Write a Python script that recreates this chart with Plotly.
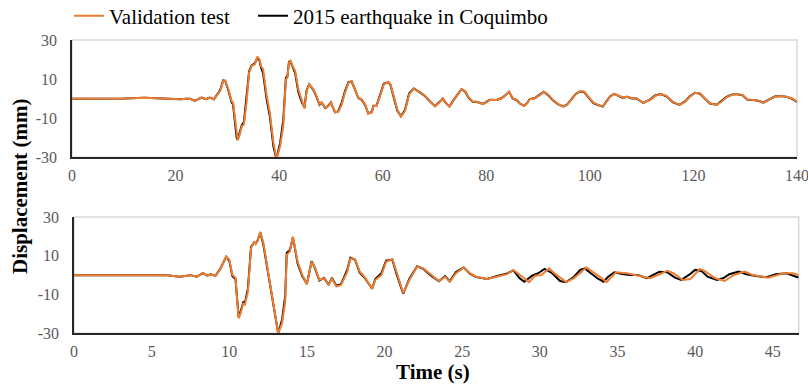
import plotly.graph_objects as go

# ---------------- data ----------------
# Top panel: full record (s) vs displacement (mm)
t_top = [0, 5, 10, 14, 18, 20, 21, 22, 22.8, 23.7, 25.0, 25.9, 26.6, 27.4, 27.9, 28.6, 29.2, 29.6,
         30.2, 30.8, 31.1, 31.8, 32.0, 32.4, 32.8, 33.2, 33.7, 34.2, 34.7, 35.3, 35.8, 36.2, 36.5,
         36.9, 37.6, 38.2, 38.9, 39.4, 39.6, 40.2, 40.8, 41.3, 41.6, 41.9, 42.2, 42.6, 43.1, 43.7,
         44.4, 44.9, 45.3, 45.8, 46.6, 47.2, 47.8, 48.2, 48.9, 49.5, 50.0, 50.3, 50.8, 51.4, 52.1,
         52.7, 53.4, 54.0, 54.6, 55.3, 55.9, 56.6, 57.2, 57.9, 58.2, 58.8, 59.5, 60.2, 61.1, 61.5,
         62.2, 62.8, 63.5, 64.3, 65.1, 66.0, 67.2, 68.2, 69.1, 70.1, 70.9, 71.6, 72.2, 72.9, 73.6,
         74.4, 75.2, 75.9, 76.5, 77.4, 78.1, 79.4, 80.7, 82.0, 83.0, 83.8, 84.4, 85.1, 85.9, 86.5,
         87.3, 87.9, 88.4, 89.4, 90.4, 91.1, 92.0, 92.9, 93.9, 94.9, 95.6, 96.5, 97.3, 98.1, 98.9,
         99.7, 100.7, 101.6, 102.5, 103.2, 103.9, 104.7, 105.5, 106.3, 107.2, 108.1, 109.0, 110.3,
         111.6, 112.6, 113.7, 114.8, 116.0, 117.3, 118.4, 119.3, 120.3, 121.3, 122.2, 123.2, 124.5,
         125.4, 126.4, 127.4, 128.3, 129.5, 130.4, 131.6, 132.5, 133.5, 134.6, 135.7, 137.0, 138.0,
         139.0, 140.0]
val_top = [0, 0, 0.1, 0.4, 0, -0.5, -0.3, 0, 0, -1.2, 0.5, -0.3, 0.5, -0.3, 1.4, 3.9, 9.0, 9.3,
           4.8, -1.2, -2.0, -19.1, -21.3, -18.3, -14.0, -13.2, -2.1, 13.3, 16.7, 17.6, 21.5, 20.1, 16.7,
           15.0, 1.4, -7.2, -22.5, -29.5, -30.0, -24.2, -14.0, 9.9, 10.8, 18.4, 19.3, 16.7, 14.1, 4.8,
           -1.2, -5.1, 3.9, 7.3, 4.8, 1.4, -2.9, -1.8, -4.6, -3.8, -2.1, -3.8, -6.8, -6.8, -2.9,
           3.0, 8.1, 9.0, 4.8, 0.5, -0.3, -2.9, -7.5, -7.2, -3.8, -3.8, 1.4, 7.3, 8.5, 7.3,
           0.5, -5.5, -9.2, -6.3, 2.2, 5.1, 3.4, 1.4, -1.2, -3.8, -2.1, 0, -2.1, -4.1, -1.2,
           1.7, 4.8, 3.9, 1.0, -1.6, -1.6, -2.8, -0.7, -0.7, 0.2, 1.9, 3.6, 0.2, -0.7, -2.4,
           -3.8, -2.4, -0.3, 0.2, 1.9, 3.6, 1.9, -0.7, -2.8, -4.1, -3.2, -0.3, 2.4, 3.6, 3.6,
           1.0, -2.1, -3.2, -4.1, -1.6, 1.0, 2.4, 1.4, 0.7, 1.0, 0.2, 0.2, -2.1,
           -0.7, 1.4, 2.4, 1.4, -1.6, -3.2, -1.6, 1.0, 3.0, 2.7, 0.2, -2.4, -3.2,
           -1.6, 0.7, 1.9, 2.4, 1.9, -0.3, -0.7, -1.0, -2.1, -0.7, 1.0, 1.4, 1.0,
           0.2, -1.6]
eq_top = [0, 0, 0.1, 0.4, 0, -0.5, -0.3, 0, 0, -1.2, 0.5, -0.3, 0.5, -0.3, 1.6, 4.3, 9.3, 9.0,
          4.2, -1.6, -3.0, -20.0, -21.0, -17.8, -13.5, -12.0, 0.5, 14.0, 17.0, 18.0, 21.0, 19.5, 16.0,
          13.0, -0.5, -9.0, -24.5, -30.0, -29.5, -22.5, -11.0, 10.5, 11.5, 18.8, 19.0, 16.0, 13.0, 3.5,
          -2.0, -4.5, 4.3, 7.3, 4.5, 1.0, -3.2, -2.0, -4.8, -3.6, -2.0, -4.0, -7.0, -6.5, -2.0,
          3.8, 8.5, 8.8, 4.4, 0.3, -0.5, -3.2, -7.6, -6.8, -3.6, -3.6, 2.0, 7.6, 8.4, 7.0,
          0.0, -6.0, -9.0, -5.8, 2.6, 5.2, 3.2, 1.2, -1.4, -3.8, -1.9, 0, -2.3, -4.0, -1.0,
          1.9, 4.8, 3.7, 0.8, -1.7, -1.6, -2.7, -0.6, -0.7, 0.3, 2.0, 3.5, 0.1, -0.8, -2.5,
          -3.7, -2.2, -0.2, 0.3, 2.0, 3.5, 1.7, -0.9, -2.9, -4.0, -3.0, -0.1, 2.5, 3.6, 3.4,
          0.8, -2.3, -3.3, -4.0, -1.4, 1.1, 2.4, 1.3, 0.5, 0.9, 0.1, 0.1, -2.2,
          -0.5, 1.6, 2.4, 1.2, -1.8, -3.2, -1.4, 1.2, 3.0, 2.5, 0.0, -2.5, -3.1,
          -1.4, 0.9, 2.0, 2.4, 1.7, -0.5, -0.7, -1.1, -2.0, -0.5, 1.1, 1.4, 0.9,
          0.0, -1.7]

# Bottom panel: time-scaled validation test
t_bot_val = [0, 3, 5, 6, 6.8, 7.5, 7.9, 8.3, 8.6, 8.8, 9.1, 9.4, 9.8, 10.0, 10.2, 10.4, 10.6, 10.7,
             10.9, 11.0, 11.2, 11.4, 11.6, 11.7, 11.8, 12.0, 12.2, 12.4, 12.6, 12.9, 13.15, 13.4, 13.6,
             13.7, 13.9, 14.1, 14.2, 14.4, 14.7, 15.0, 15.3, 15.5, 15.8, 16.1, 16.4, 16.6, 16.9, 17.2,
             17.6, 17.8, 18.1, 18.4, 18.7, 19.2, 19.4, 19.8, 20.1, 20.5, 20.8, 21.2, 21.6, 22.1, 22.5,
             23.0, 23.5, 23.9, 24.2, 24.6, 25.1, 25.5, 25.9, 26.6, 27.2, 27.9, 28.3, 28.7, 29.3, 29.7,
             30.1, 30.6, 31.0, 31.7, 32.2, 33.0, 33.4, 34.0, 34.3, 34.6, 34.9, 35.6, 36.4, 37.1, 37.6,
             38.2, 38.6, 39.2, 39.7, 40.3, 40.6, 41.3, 41.9, 42.5, 43.2, 43.7, 44.7, 45.7, 46.3, 46.67]
val_bot = [0, 0, 0.2, 0, -0.8, 0, -0.8, 1.0, -0.3, 0.5, -0.5, 2.7, 9.6, 8.0, 0.1, -1.3, -22.3, -20.5,
           -14.5, -15.4, -8.5, 13.8, 17.3, 16.0, 17.3, 22.4, 16.4, 6.9, -1.6, -17.1, -30.0, -24.8, -13.7,
           10.5, 12.1, 19.8, 15.6, 6.9, 0.1, -4.7, 6.9, 4.4, -2.5, -1.6, -5.1, -1.6, -5.9, -5.1,
           1.8, 8.7, 8.3, 1.8, -0.8, -7.1, -2.5, 0.1, 6.9, 8.3, 1.0, -9.3, -2.5, 4.4, 3.5,
           0.1, -3.0, -0.8, -3.4, 1.0, 3.9, 1.0, -0.8, -2.0, -0.8, 0.5, 2.7, 0.1, -3.6, -0.3,
           0.1, 3.5, 0.5, -3.6, -1.5, 3.9, 1.8, -1.6, -3.6, -1.3, 1.5, 1.0, -0.3, -1.6, 0.1,
           2.2, 1.0, -2.5, -2.0, 3.2, 2.2, -1.6, -3.0, 0.1, 1.8, 0.1, -1.3, 1.0, 1.0, 0.1]

t_bot_eq = [0, 3, 5, 6, 6.8, 7.5, 7.9, 8.3, 8.6, 8.8, 9.1, 9.4, 9.8, 10.0, 10.2, 10.4, 10.6, 10.7,
            10.9, 11.0, 11.2, 11.4, 11.6, 11.7, 11.8, 12.0, 12.2, 12.4, 12.6, 12.9, 13.15, 13.4, 13.6,
            13.7, 13.9, 14.1, 14.2, 14.4, 14.7, 15.0, 15.3, 15.5, 15.8, 16.1, 16.4, 16.6, 16.9, 17.2,
            17.6, 17.8, 18.1, 18.4, 18.7, 19.2, 19.4, 19.8, 20.1, 20.5, 20.8, 21.2, 21.6, 22.1, 22.5,
            23.0, 23.5, 23.9, 24.2, 24.6, 25.1, 25.5, 25.9, 26.6, 27.2, 27.9, 28.3, 28.7, 29.0, 29.5,
            29.9, 30.3, 30.8, 31.3, 31.7, 32.2, 32.6, 32.9, 33.2, 33.7, 34.1, 34.4, 34.8, 35.3, 35.8,
            36.3, 36.9, 37.3, 37.7, 38.2, 38.7, 39.1, 39.6, 40.0, 40.4, 40.8, 41.4, 41.8, 42.2, 42.8,
            43.3, 43.9, 44.6, 45.2, 45.9, 46.5, 46.67]
eq_bot = [0, 0, 0.2, 0, -0.8, 0, -0.8, 1.0, -0.3, 0.5, -0.5, 3.0, 9.4, 7.5, -0.5, -2.0, -21.5, -19.5,
          -14.0, -14.5, -7.0, 14.5, 17.0, 16.3, 17.5, 22.0, 15.5, 5.5, -3.0, -19.0, -30.0, -23.0, -11.0,
          11.5, 12.8, 19.5, 15.0, 6.0, -0.5, -4.5, 7.2, 4.0, -2.8, -1.4, -5.0, -1.4, -5.5, -4.6,
          2.8, 9.0, 8.0, 1.2, -1.2, -7.0, -2.0, 1.0, 7.5, 8.0, 0.0, -9.5, -1.8, 4.6, 3.2,
          -0.3, -3.2, -0.5, -3.2, 1.6, 4.0, 0.8, -1.0, -2.0, -0.6, 0.9, 2.5, -1.6, -3.4, -0.3,
          1.0, 3.2, 1.0, -3.0, -3.6, -0.8, 2.7, 3.5, 1.5, -1.6, -3.4, -0.8, 1.5, 0.6, 0.1,
          0.1, -1.6, 0.1, 1.8, 1.5, -1.3, -2.5, 0.1, 2.7, 2.2, -0.8, -2.5, -1.6, 0.5, 1.8,
          0.5, -0.4, -1.1, 0.5, 1.0, -0.8, -1.2]

y_tickvals = [-30, -10, 10, 30]
y_ticktext = ["-30", "-10", "10", "30"]
x_top_ticks = [0, 20, 40, 60, 80, 100, 120, 140]
x_bot_ticks = [0, 5, 10, 15, 20, 25, 30, 35, 40, 45]

series_names = ["Validation test", "2015 earthquake in Coquimbo"]
ORANGE = "#ED7D31"
BLACK = "#000000"
FONT = "Liberation Serif, Times New Roman, serif"

W, H = 808, 385

def px_x(p):
    return p / W

def px_y(p):
    return 1 - p / H

fig = go.Figure()

# top panel
fig.add_trace(go.Scatter(x=t_top, y=eq_top, mode="lines", line=dict(color=BLACK, width=2),
                         name=series_names[1], xaxis="x", yaxis="y", showlegend=True, legend="legend2"))
fig.add_trace(go.Scatter(x=t_top, y=val_top, mode="lines", line=dict(color=ORANGE, width=2),
                         name=series_names[0], xaxis="x", yaxis="y", showlegend=True, legend="legend"))
# bottom panel
fig.add_trace(go.Scatter(x=t_bot_eq, y=eq_bot, mode="lines", line=dict(color=BLACK, width=2),
                         name=series_names[1], xaxis="x2", yaxis="y2", showlegend=False))
fig.add_trace(go.Scatter(x=t_bot_val, y=val_bot, mode="lines", line=dict(color=ORANGE, width=2),
                         name=series_names[0], xaxis="x2", yaxis="y2", showlegend=False))

tickfont = dict(family=FONT, size=16, color="#595959")

common_x = dict(showgrid=False, zeroline=False, showline=True, linecolor="#262626", linewidth=1.5,
                ticks="", tickfont=tickfont, ticklabelstandoff=3, ticklabeloverflow="allow")
common_y = dict(showgrid=False, zeroline=False, showline=True, linecolor="#262626", linewidth=1.5,
                ticks="", tickfont=tickfont, range=[-30, 30], tickvals=y_tickvals, ticktext=y_ticktext,
                ticklabelstandoff=10, ticklabeloverflow="allow")

legend_style = dict(orientation="h", xanchor="left", yanchor="middle",
                    font=dict(family=FONT, size=21, color="black"), bgcolor="rgba(0,0,0,0)",
                    itemwidth=30)

fig.update_layout(
    width=W, height=H,
    margin=dict(l=0, r=0, t=0, b=0, autoexpand=False),
    paper_bgcolor="white", plot_bgcolor="white",
    font=dict(family=FONT),
    xaxis=dict(domain=[px_x(72), px_x(797)], anchor="y", range=[0, 140.001], tickvals=x_top_ticks, **common_x),
    yaxis=dict(domain=[px_y(157.3), px_y(40)], anchor="x", **common_y),
    xaxis2=dict(domain=[px_x(74), px_x(798.7)], anchor="y2", range=[0, 46.67], tickvals=x_bot_ticks, **common_x),
    yaxis2=dict(domain=[px_y(333.3), px_y(217)], anchor="x2", **common_y),
    legend=dict(x=px_x(69), y=px_y(16), **legend_style),
    legend2=dict(x=px_x(253), y=px_y(16), **legend_style),
    showlegend=True,
)

# light grey plot-area borders
for xr, yr in (("x domain", "y domain"), ("x2 domain", "y2 domain")):
    fig.add_shape(type="rect", xref=xr, yref=yr, x0=0, x1=1, y0=0, y1=1,
                  line=dict(color="#D9D9D9", width=1.5), layer="below")

fig.add_annotation(text="<b>Displacement (mm)</b>", xref="paper", yref="paper",
                   x=px_x(20), y=px_y(186), textangle=-90, showarrow=False,
                   font=dict(family=FONT, size=21, color="black"), xanchor="center", yanchor="middle")
fig.add_annotation(text="<b>Time (s)</b>", xref="paper", yref="paper",
                   x=px_x(433), y=px_y(372), showarrow=False,
                   font=dict(family=FONT, size=21, color="black"), xanchor="center", yanchor="middle")

fig.write_html("out.html", config={"displayModeBar": False},
               post_script="document.body.style.margin='0';document.body.style.overflow='hidden';")
